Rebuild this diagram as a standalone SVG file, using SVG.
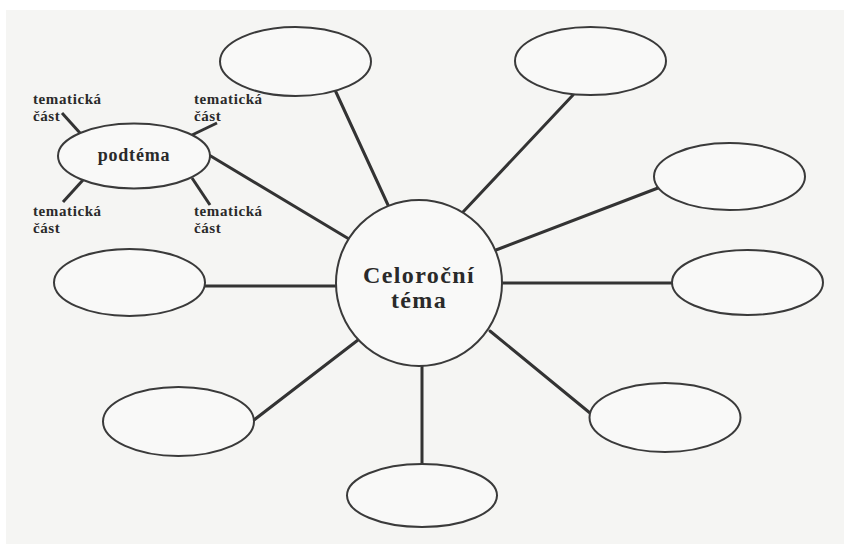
<svg xmlns="http://www.w3.org/2000/svg" width="844" height="544" viewBox="0 0 844 544">
<style>
.n{fill:#f9f9f8;stroke:#3a3a3a;stroke-width:2}
.c line{stroke:#333;stroke-width:3;stroke-linecap:round}
.s line{stroke:#333;stroke-width:3}
text{font-family:"Liberation Serif","DejaVu Serif",serif;font-weight:bold;fill:#2a2a2a}
.lbl{font-size:15px;letter-spacing:0.6px}
</style>
<rect x="0" y="0" width="844" height="544" fill="#ffffff"/>
<rect x="6" y="10" width="838" height="534" fill="#f5f5f3"/>
<g class="c" id="connectors">
<line x1="335" y1="90" x2="388" y2="205"/>
<line x1="573" y1="95" x2="463" y2="212"/>
<line x1="658" y1="188" x2="496" y2="250"/>
<line x1="502" y1="283" x2="672" y2="283"/>
<line x1="490" y1="331" x2="590" y2="413"/>
<line x1="422" y1="366" x2="422" y2="464"/>
<line x1="358" y1="340" x2="254" y2="420"/>
<line x1="205" y1="286" x2="336" y2="286"/>
<line x1="209" y1="155" x2="349" y2="239"/>
</g>
<g class="s" id="subconnectors">
<line x1="62" y1="113" x2="80" y2="133"/>
<line x1="192" y1="135" x2="217" y2="123"/>
<line x1="83" y1="180" x2="63" y2="202"/>
<line x1="192" y1="178" x2="210" y2="205"/>
</g>
<g id="center">
<circle class="n" cx="419" cy="283" r="83"/>
<text x="419" y="283" font-size="24" letter-spacing="1.4" text-anchor="middle">Celoroční</text>
<text x="419" y="308" font-size="24" letter-spacing="1.4" text-anchor="middle">téma</text>
</g>
<g id="podtema">
<ellipse class="n" cx="134" cy="156" rx="76" ry="32.5"/>
<text x="134" y="161" font-size="18" letter-spacing="0.8" text-anchor="middle">podtéma</text>
</g>
<g id="e1"><ellipse class="n" cx="295.5" cy="61.5" rx="75.5" ry="34.5"/></g>
<g id="e2"><ellipse class="n" cx="590.5" cy="61" rx="75.5" ry="34"/></g>
<g id="e3"><ellipse class="n" cx="729.5" cy="176.5" rx="75.5" ry="33.5"/></g>
<g id="e4"><ellipse class="n" cx="747.5" cy="282.5" rx="75.5" ry="32.5"/></g>
<g id="e5"><ellipse class="n" cx="665" cy="417.5" rx="75.5" ry="34.5"/></g>
<g id="e6"><ellipse class="n" cx="422" cy="495.5" rx="75" ry="31.5"/></g>
<g id="e7"><ellipse class="n" cx="178.5" cy="421.5" rx="75.5" ry="34.5"/></g>
<g id="e8"><ellipse class="n" cx="129.5" cy="282.5" rx="75.5" ry="33.5"/></g>
<g id="t1"><text class="lbl" x="33" y="104">tematická</text><text class="lbl" x="33" y="121">část</text></g>
<g id="t2"><text class="lbl" x="194" y="104">tematická</text><text class="lbl" x="194" y="121">část</text></g>
<g id="t3"><text class="lbl" x="33" y="216">tematická</text><text class="lbl" x="33" y="233">část</text></g>
<g id="t4"><text class="lbl" x="194" y="216">tematická</text><text class="lbl" x="194" y="233">část</text></g>
</svg>
